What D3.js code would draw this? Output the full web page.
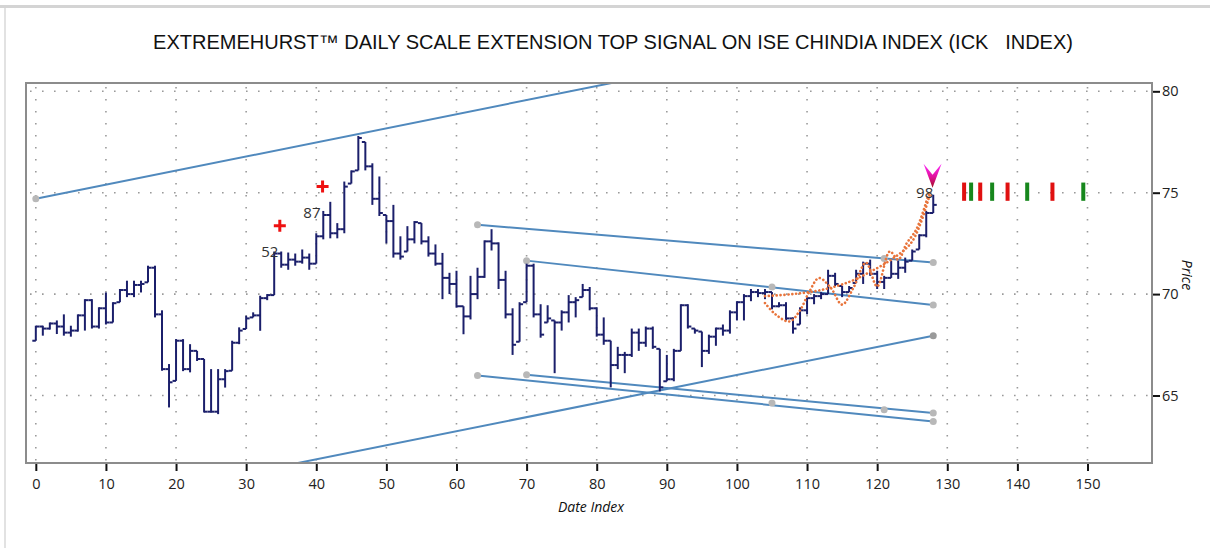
<!DOCTYPE html>
<html>
<head>
<meta charset="utf-8">
<script src="https://cdn.jsdelivr.net/npm/d3@7"></script>
<style>
  body { margin: 0; background: #fff; }
  text { font-family: "Open Sans", sans-serif; }
</style>
</head>
<body>
<svg id="chart" width="1210" height="548"></svg>
<script>

// price bars, one per date index (0..128)
var highs = [
    68.44, 68.44, 68.60, 68.70, 69.00, 68.44, 69.00, 69.75, 69.75, 69.35,
    70.08, 69.60, 70.25, 70.66, 70.66, 70.66, 71.40, 71.40, 69.20, 66.55,
    67.78, 67.78, 67.53, 67.20, 66.80, 66.30, 66.30, 66.30, 67.70, 68.36,
    68.93, 69.10, 69.92, 70.00, 72.10, 72.10, 72.05, 72.00, 72.20, 72.00,
    73.00, 74.10, 74.55, 73.50, 75.55, 76.10, 77.80, 77.50, 76.45, 75.80,
    73.90, 74.40, 72.85, 73.35, 73.60, 73.50, 72.85, 72.45, 72.03, 71.05,
    71.15, 69.40, 70.90, 71.30, 72.65, 73.20, 72.55, 71.15, 69.30, 69.60,
    71.50, 71.50, 69.50, 69.45, 68.70, 69.20, 69.95, 69.85, 70.50, 70.35,
    69.35, 68.85, 67.70, 67.40, 67.15, 68.30, 68.30, 68.40, 68.40, 67.30,
    67.00, 67.30, 69.50, 69.50, 68.30, 68.15, 68.00, 68.35, 68.50, 69.20,
    69.65, 70.00, 70.25, 70.25, 70.25, 70.10, 69.60, 69.60, 68.85, 69.35,
    69.85, 70.00, 70.10, 71.20, 71.05, 70.40, 70.40, 71.20, 71.60, 71.70,
    71.15, 70.90, 71.65, 71.65, 71.80, 72.20, 72.95, 74.10, 74.90
];
var lows = [
    67.70, 67.95, 68.25, 68.03, 67.95, 67.90, 68.15, 68.20, 68.30, 68.30,
    68.50, 68.60, 69.60, 69.85, 69.85, 70.08, 70.58, 68.85, 66.22, 64.41,
    65.72, 66.20, 66.14, 66.70, 64.16, 64.16, 64.08, 65.39, 66.22, 67.53,
    68.28, 68.85, 68.19, 69.70, 69.95, 71.30, 71.20, 71.40, 71.50, 71.20,
    71.50, 72.70, 72.75, 72.75, 73.00, 75.45, 76.10, 76.10, 74.40, 73.85,
    72.50, 71.80, 71.70, 72.10, 72.50, 72.45, 71.85, 71.40, 69.75, 70.00,
    69.33, 68.02, 68.75, 69.75, 70.80, 72.15, 70.25, 68.80, 67.00, 67.65,
    69.60, 68.85, 67.85, 68.60, 66.10, 68.20, 68.60, 68.85, 69.85, 69.20,
    67.90, 67.50, 65.40, 66.30, 66.10, 66.90, 67.20, 67.40, 67.30, 65.20,
    65.70, 65.70, 67.20, 68.30, 68.05, 66.40, 67.05, 67.45, 67.95, 68.05,
    68.70, 68.70, 69.65, 69.85, 69.75, 69.25, 69.35, 68.70, 68.05, 68.50,
    69.00, 69.50, 69.75, 70.00, 70.40, 69.85, 70.10, 70.55, 70.50, 70.90,
    70.25, 70.25, 70.80, 70.75, 71.05, 71.65, 72.20, 72.80, 74.00
];
var closes = [
    68.40, 68.30, 68.55, 68.40, 68.10, 68.20, 68.95, 69.70, 68.40, 69.30,
    68.60, 69.55, 70.20, 70.00, 70.45, 70.50, 71.30, 69.00, 66.30, 65.65,
    67.70, 66.30, 67.20, 66.80, 64.20, 64.20, 65.80, 66.20, 67.60, 68.20,
    68.80, 68.95, 69.80, 69.95, 72.00, 71.45, 71.70, 71.60, 71.80, 71.50,
    72.85, 73.90, 73.00, 73.20, 75.30, 76.05, 77.70, 76.30, 74.70, 74.00,
    73.60, 72.00, 71.85, 72.70, 73.55, 72.60, 72.00, 71.50, 70.80, 70.50,
    69.40, 68.90, 70.00, 70.85, 72.60, 72.50, 70.70, 69.00, 67.50, 69.50,
    71.40, 69.00, 68.00, 68.80, 68.60, 69.10, 69.60, 69.70, 70.20, 69.30,
    68.00, 67.70, 66.50, 67.00, 67.00, 68.10, 67.60, 68.30, 67.40, 65.40,
    65.80, 67.20, 69.45, 68.40, 68.20, 67.20, 67.90, 68.30, 68.20, 69.10,
    69.60, 69.90, 70.10, 70.05, 70.10, 69.40, 69.45, 68.80, 68.30, 69.20,
    69.80, 69.90, 70.00, 70.90, 70.50, 70.10, 70.30, 71.00, 71.50, 71.00,
    70.60, 70.80, 71.00, 71.30, 71.60, 72.10, 72.90, 74.00, 74.40
];

// trend lines [x1, y1, x2, y2]
var trendLines = [
    [0, 74.70, 128, 83.60],
    [0, 59.08, 128, 67.95],
    [63, 73.42, 128, 71.56],
    [70, 71.65, 128, 69.46],
    [63, 65.99, 128, 63.72],
    [70, 66.02, 128, 64.13]
];
// grey anchor dots on the trend lines
var anchorX = [0, 63, 121, 128, 70, 105, 128, 128, 63, 105, 128, 70, 121, 128];
var anchorY = [74.70, 73.42, 71.76, 71.56, 71.65, 70.35, 69.46, 67.95, 65.99, 64.63, 63.72, 66.02, 64.30, 64.13];

// orange dotted projections
var waveX = [104, 105.5, 107.5, 109, 110.3, 111.7, 113.4, 115, 116.6, 118.4, 120, 121.8, 123, 124.2, 125.6, 127.4];
var waveY = [69.56, 69.0, 68.65, 69.2, 70.1, 70.79, 70.3, 69.48, 70.3, 71.55, 70.38, 72.1, 71.7, 72.5, 73.2, 75.0];
var trendX = [104, 108, 112, 116, 119, 122, 125, 127.5];
var trendY = [69.90, 70.00, 70.20, 70.60, 71.10, 71.70, 72.60, 74.90];

// signal markers and labels
var crossX = [34.8, 40.9];
var crossY = [73.37, 75.31];
var labelText = ["52", "87", "98"];
var labelX = [34.6, 40.6, 128.0];
var labelY = [71.85, 73.75, 74.75];
var topSignalX = [127.9];
var topSignalY = [75.25];
var redBarX = [132.4, 134.7, 138.6, 145.0];
var greenBarX = [133.4, 136.4, 141.4, 149.4];
var signalBarLevel = [74.6, 75.5];

var xTicks = d3.range(0, 151, 10);
var yTicks = [65, 70, 75, 80];

var svg = d3.select("#chart");

// page frame
svg.append("rect").attr("x", 0).attr("y", 5).attr("width", 1210).attr("height", 3).attr("fill", "#d4d4d4");
svg.append("rect").attr("x", 4).attr("y", 8).attr("width", 2).attr("height", 540).attr("fill", "#e2e2e2");

svg.append("text")
    .attr("x", 613)
    .attr("y", 49)
    .attr("text-anchor", "middle")
    .style("font-family", "'Liberation Sans', Arial, sans-serif")
    .style("font-size", "20px")
    .attr("fill", "#111")
    .text("EXTREMEHURST\u2122 DAILY SCALE EXTENSION TOP SIGNAL ON ISE CHINDIA INDEX (ICK\u00a0\u00a0 INDEX)");

var plotLeft = 26, plotRight = 1152, plotTop = 83, plotBottom = 463;

var x = d3.scaleLinear().domain([-1.4, 159.2]).range([plotLeft, plotRight]);
var y = d3.scaleLinear().domain([61.67, 80.41]).range([plotBottom, plotTop]);

svg.append("clipPath").attr("id", "plotClip")
    .append("rect")
    .attr("x", plotLeft).attr("y", plotTop)
    .attr("width", plotRight - plotLeft).attr("height", plotBottom - plotTop);

// dotted grid
var grid = svg.append("g");
grid.selectAll("line.v").data(xTicks).enter().append("line")
    .attr("x1", function(d) { return x(d); })
    .attr("x2", function(d) { return x(d); })
    .attr("y1", plotTop + 4).attr("y2", plotBottom)
    .attr("stroke", "#9a9a9a").attr("stroke-width", 1.6)
    .attr("stroke-dasharray", "1.6,10.4");
grid.selectAll("line.h").data(yTicks).enter().append("line")
    .attr("y1", function(d) { return y(d); })
    .attr("y2", function(d) { return y(d); })
    .attr("x1", plotLeft + 4).attr("x2", plotRight)
    .attr("stroke", "#9a9a9a").attr("stroke-width", 1.6)
    .attr("stroke-dasharray", "1.6,10.4");

var plot = svg.append("g").attr("clip-path", "url(#plotClip)");

// trend lines
plot.selectAll("line.trend").data(trendLines).enter().append("line")
    .attr("x1", function(d) { return x(d[0]); })
    .attr("y1", function(d) { return y(d[1]); })
    .attr("x2", function(d) { return x(d[2]); })
    .attr("y2", function(d) { return y(d[3]); })
    .attr("stroke", "#5089bd")
    .attr("stroke-width", 2);

plot.selectAll("circle.anchor").data(anchorX).enter().append("circle")
    .attr("cx", function(d) { return x(d); })
    .attr("cy", function(d, i) { return y(anchorY[i]); })
    .attr("r", 3.5)
    .attr("fill", function(d, i) { return i == 7 ? "#9a9a9a" : "#b8b8b8"; });

// price bars: high-low with open tick left, close tick right
var bars = plot.append("g")
    .attr("stroke", "#1b1f6b")
    .attr("stroke-width", 2);

highs.forEach(function(h, i) {
    var cx = x(i);
    var open = i == 0 ? lows[0] : Math.max(lows[i], Math.min(h, closes[i - 1]));
    bars.append("line")
        .attr("x1", cx).attr("x2", cx)
        .attr("y1", y(h)).attr("y2", y(lows[i]));
    bars.append("line")
        .attr("x1", cx - 3.5).attr("x2", cx)
        .attr("y1", y(open)).attr("y2", y(open));
    bars.append("line")
        .attr("x1", cx).attr("x2", cx + 3.5)
        .attr("y1", y(closes[i])).attr("y2", y(closes[i]));
});

// orange dotted projections
var curve = d3.line()
    .x(function(d) { return x(d[0]); })
    .y(function(d) { return y(d[1]); })
    .curve(d3.curveCatmullRom);

[d3.zip(waveX, waveY), d3.zip(trendX, trendY)].forEach(function(pts) {
    plot.append("path")
        .attr("d", curve(pts))
        .attr("fill", "none")
        .attr("stroke", "#e8743b")
        .attr("stroke-width", 2.6)
        .attr("stroke-linecap", "round")
        .attr("stroke-dasharray", "0.1,3.8");
});

// red crosses
plot.selectAll("path.cross").data(crossX).enter().append("path")
    .attr("d", function(d, i) {
        var cx = x(d), cy = y(crossY[i]);
        return "M" + (cx - 6) + "," + cy + "H" + (cx + 6) + "M" + cx + "," + (cy - 6) + "V" + (cy + 6);
    })
    .attr("stroke", "#ee1111")
    .attr("stroke-width", 3);

plot.selectAll("text.count").data(labelText).enter().append("text")
    .attr("x", function(d, i) { return x(labelX[i]); })
    .attr("y", function(d, i) { return y(labelY[i]); })
    .attr("text-anchor", "end")
    .attr("fill", "#333")
    .style("font-size", "15px")
    .text(function(d) { return d; });

// top signal arrow
var grad = svg.append("defs").append("linearGradient")
    .attr("id", "arrowGrad")
    .attr("x1", 0).attr("y1", 0).attr("x2", 0).attr("y2", 1);
grad.append("stop").attr("offset", "0%").attr("stop-color", "#ff2cff");
grad.append("stop").attr("offset", "55%").attr("stop-color", "#e0109a");
grad.append("stop").attr("offset", "100%").attr("stop-color", "#a01020");

plot.selectAll("path.top").data(topSignalX).enter().append("path")
    .attr("transform", function(d, i) { return "translate(" + x(d) + "," + y(topSignalY[i]) + ")"; })
    .attr("d", "M-9,-24L0,-13L9,-24L0,0Z")
    .attr("fill", "url(#arrowGrad)");

// projected turn bars
plot.selectAll("rect.red").data(redBarX).enter().append("rect")
    .attr("x", function(d) { return x(d) - 2; })
    .attr("y", y(signalBarLevel[1]))
    .attr("width", 4)
    .attr("height", y(signalBarLevel[0]) - y(signalBarLevel[1]))
    .attr("fill", "#e01010");
plot.selectAll("rect.green").data(greenBarX).enter().append("rect")
    .attr("x", function(d) { return x(d) - 2; })
    .attr("y", y(signalBarLevel[1]))
    .attr("width", 4)
    .attr("height", y(signalBarLevel[0]) - y(signalBarLevel[1]))
    .attr("fill", "#17871d");

// frame
svg.append("rect")
    .attr("x", plotLeft).attr("y", plotTop)
    .attr("width", plotRight - plotLeft).attr("height", plotBottom - plotTop)
    .attr("fill", "none")
    .attr("stroke", "#8c8c8c")
    .attr("stroke-width", 2);

// axes
var xAxis = svg.append("g")
    .attr("transform", "translate(0," + (plotBottom + 1) + ")")
    .call(d3.axisBottom(x).tickValues(xTicks).tickSize(7).tickPadding(8).tickFormat(d3.format("d")));
var yAxis = svg.append("g")
    .attr("transform", "translate(" + (plotRight + 1) + ",0)")
    .call(d3.axisRight(y).tickValues(yTicks).tickSize(7).tickPadding(2).tickFormat(d3.format("d")));

[xAxis, yAxis].forEach(function(a) {
    a.select(".domain").remove();
    a.selectAll(".tick line").attr("stroke", "#111").attr("stroke-width", 2);
    a.selectAll(".tick text")
        .attr("fill", "#222")
        .style("font-family", "'Open Sans', sans-serif")
        .style("font-size", "14.5px");
});

svg.append("text")
    .attr("x", 591)
    .attr("y", 512)
    .attr("text-anchor", "middle")
    .style("font-size", "14px")
    .style("font-style", "italic")
    .attr("fill", "#111")
    .text("Date Index");

svg.append("text")
    .attr("transform", "translate(1182,275) rotate(90)")
    .attr("text-anchor", "middle")
    .style("font-size", "14px")
    .style("font-style", "italic")
    .attr("fill", "#111")
    .text("Price");

</script>
</body>
</html>
